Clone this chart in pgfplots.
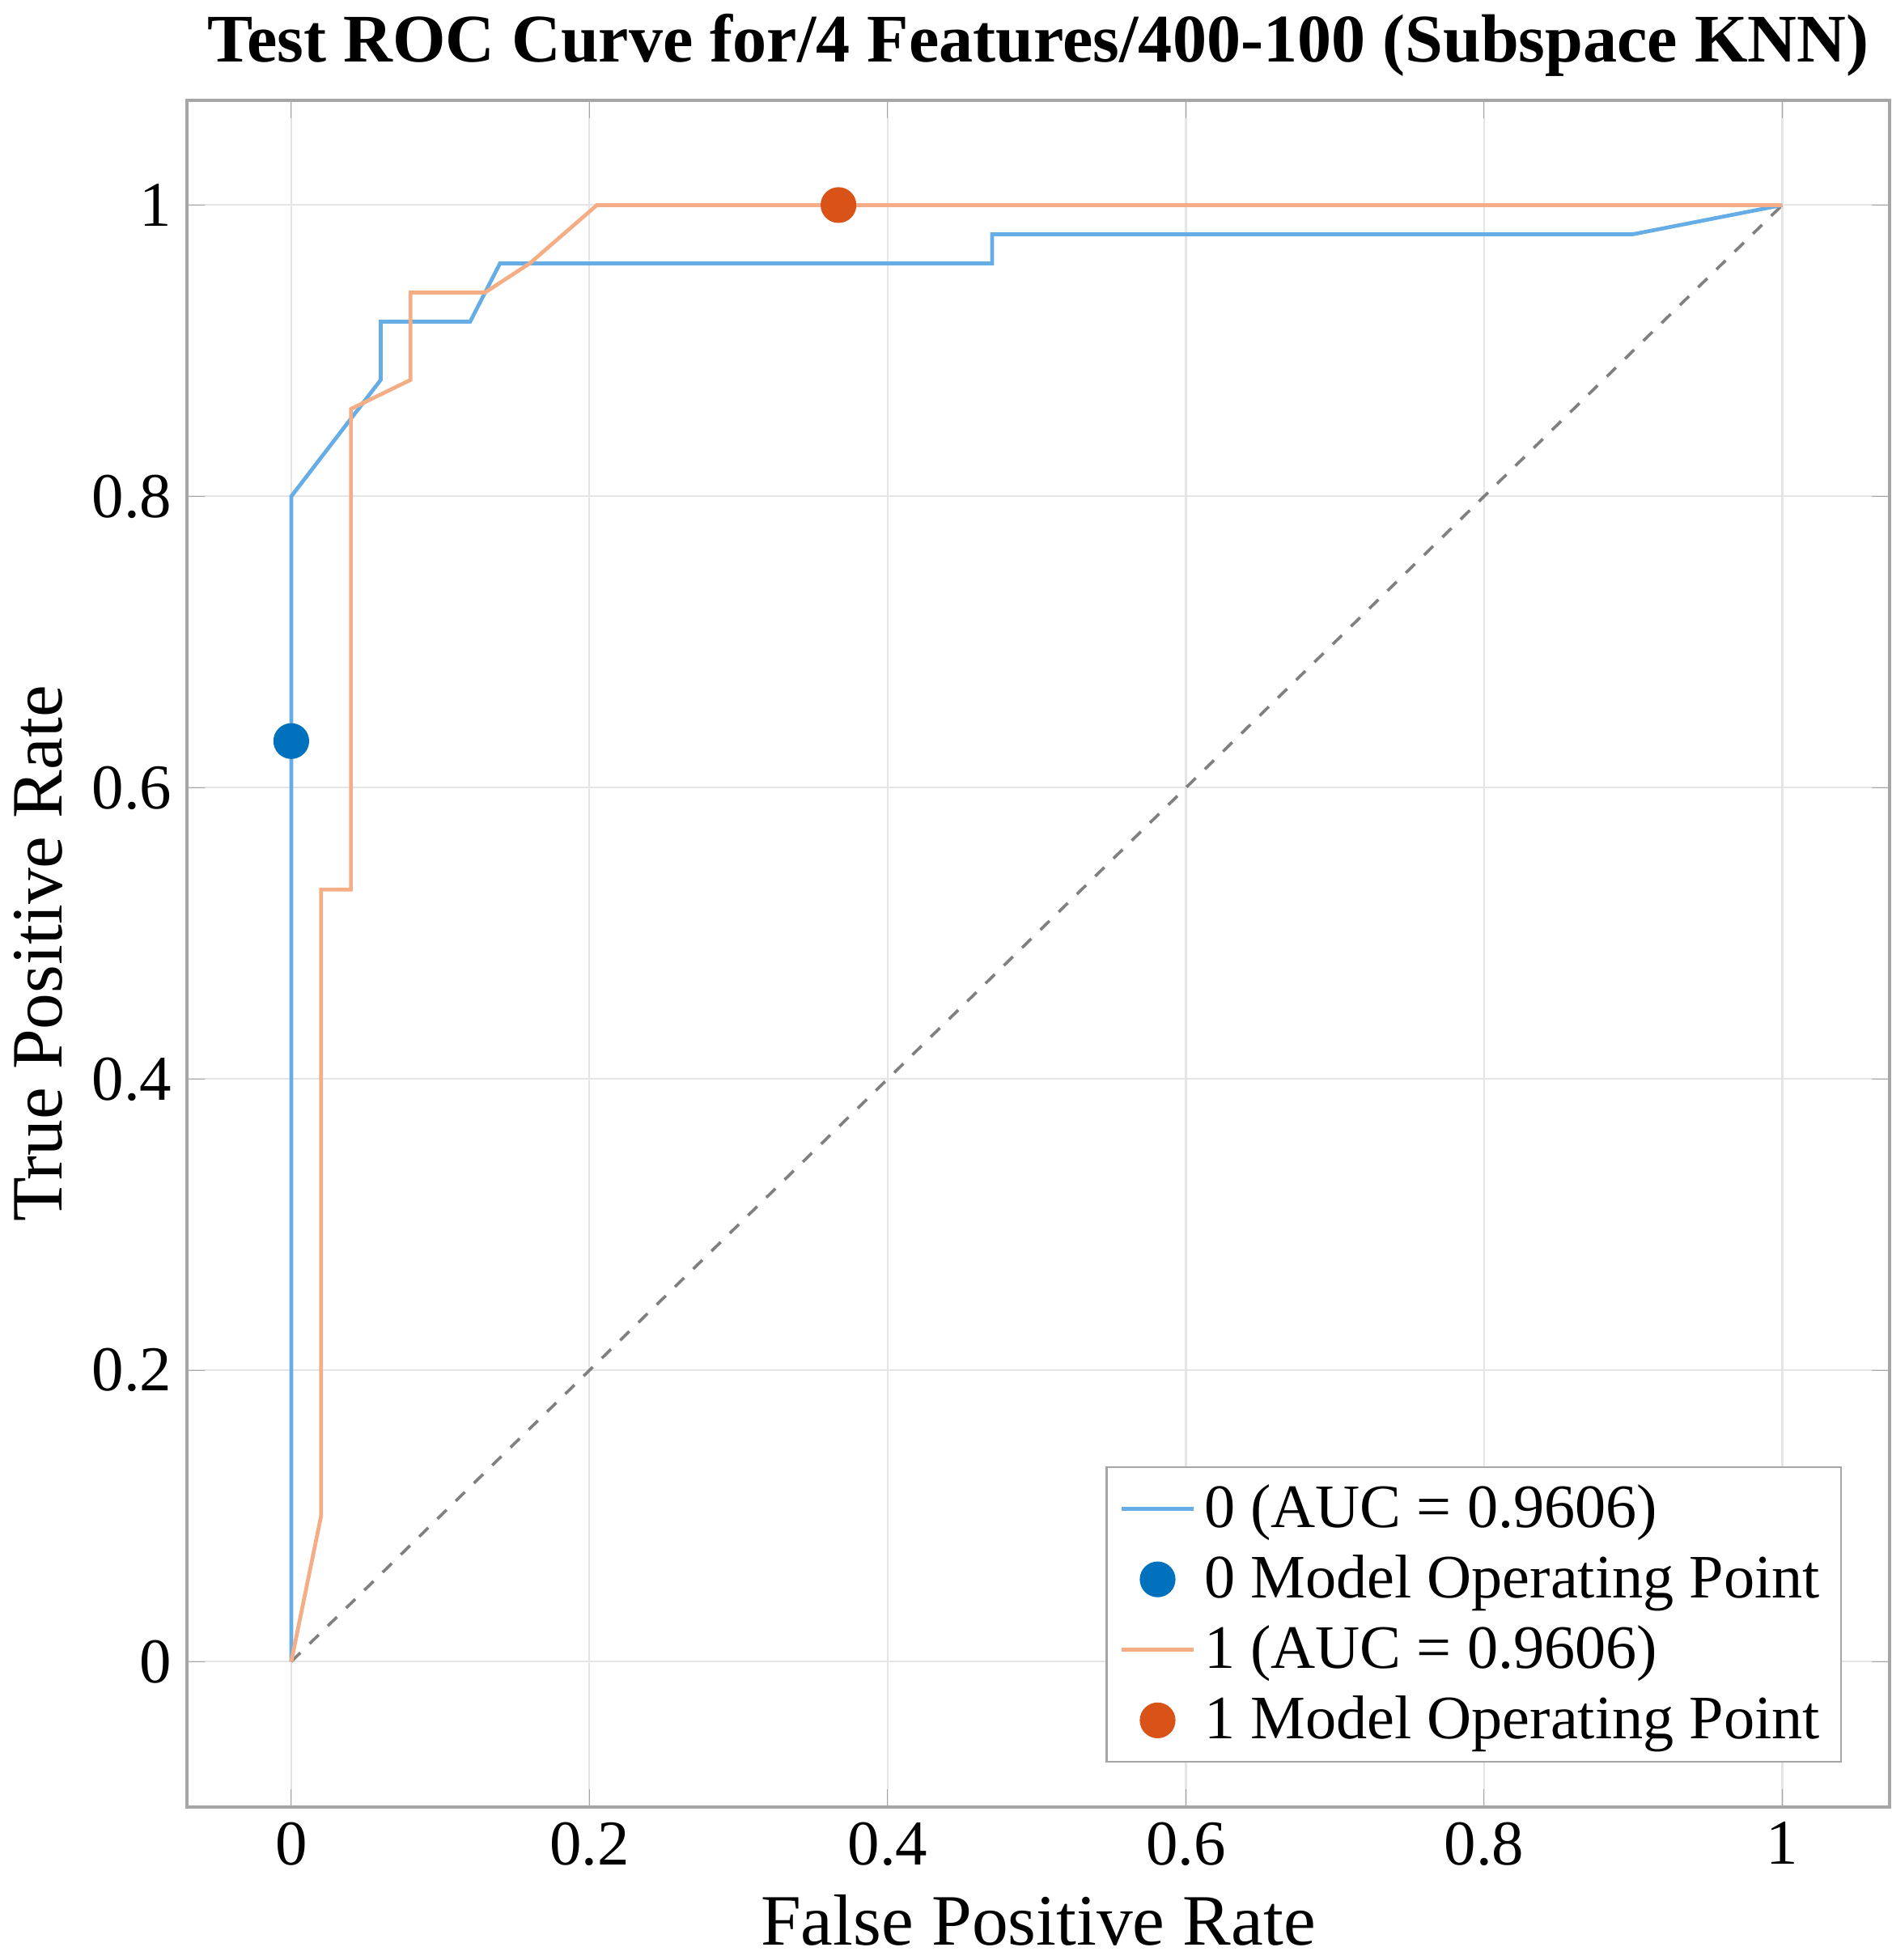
\documentclass[border=0pt]{standalone}
\usepackage{fontspec}
\setmainfont{Liberation Serif}
\usepackage{pgfplots}
\pgfplotsset{compat=1.18}
\definecolor{lb}{rgb}{0.40,0.68,0.90}
\definecolor{lo}{rgb}{0.96,0.68,0.52}
\definecolor{mb}{rgb}{0,0.447,0.741}
\definecolor{mo}{rgb}{0.85,0.325,0.098}
\begin{document}
\begin{tikzpicture}
\begin{axis}[
  width=400pt, height=401pt, scale only axis,
  xmin=-0.07, xmax=1.072, ymin=-0.1, ymax=1.072,
  xtick={0,0.2,0.4,0.6,0.8,1}, ytick={0,0.2,0.4,0.6,0.8,1},
  xticklabels={0,0.2,0.4,0.6,0.8,1}, yticklabels={0,0.2,0.4,0.6,0.8,1},
  tick label style={font=\fontsize{15}{17}\selectfont},
  grid=major, grid style={gray!20},
  axis line style={gray!70, line width=0.8pt},
  tick style={gray!70},
  xlabel={False Positive Rate}, ylabel={True Positive Rate},
  label style={font=\fontsize{17}{19}\selectfont},
  title={\textbf{Test ROC Curve for/4 Features/400-100 (Subspace KNN)}},
  title style={font=\fontsize{16}{18}\selectfont, yshift=-4pt},
  legend style={at={(0.972,0.026)}, anchor=south east, draw=gray!70, font=\fontsize{14.5}{17}\selectfont, cells={anchor=west}, row sep=1pt},
  legend cell align=left,
]
\addplot[gray, dashed, line width=0.7pt, forget plot] coordinates {(0,0) (1,1)};
\addplot[lb, line width=0.9pt] coordinates {(0,0) (0,0.8) (0.06,0.88) (0.06,0.92) (0.12,0.92) (0.14,0.96) (0.47,0.96) (0.47,0.98) (0.9,0.98) (1,1)};
\addlegendentry{0 (AUC = 0.9606)}
\addplot[only marks, mark=*, mark size=4pt, color=mb] coordinates {(0,0.632)};
\addlegendentry{0 Model Operating Point}
\addplot[lo, line width=0.9pt] coordinates {(0,0) (0.02,0.1) (0.02,0.53) (0.04,0.53) (0.04,0.86) (0.08,0.88) (0.08,0.94) (0.13,0.94) (0.16,0.96) (0.205,1) (1,1)};
\addlegendentry{1 (AUC = 0.9606)}
\addplot[only marks, mark=*, mark size=4pt, color=mo] coordinates {(0.367,1)};
\addlegendentry{1 Model Operating Point}
\end{axis}
\end{tikzpicture}
\end{document}
